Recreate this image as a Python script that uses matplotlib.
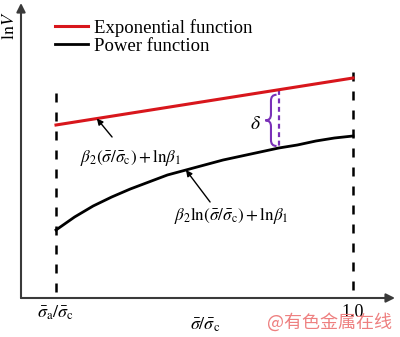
import numpy as np
import matplotlib
matplotlib.use('Agg')
import matplotlib.pyplot as plt
from matplotlib.path import Path
from matplotlib.patches import PathPatch

plt.rcParams['font.family'] = ['Liberation Serif', 'DejaVu Serif']
plt.rcParams['mathtext.fontset'] = 'stix'

# values (sigma_a/sigma_c taken as 0.2, lnV in arbitrary units)
x_a = 0.2
x_end = 1.0
x_exp = [0.2, 1.0]
lnv_exp = [1.73, 2.20]
x_pow = [0.20, 0.25, 0.30, 0.35, 0.40, 0.45, 0.50, 0.55, 0.60,
         0.65, 0.70, 0.75, 0.80, 0.85, 0.90, 0.95, 1.00]
lnv_pow = [0.68, 0.81, 0.92, 1.01, 1.09, 1.16, 1.23, 1.28, 1.33,
           1.38, 1.42, 1.46, 1.50, 1.53, 1.57, 1.60, 1.62]
x_delta = 0.80
tick_pos = [x_a, x_end]
tick_labels = [r'$\bar{\sigma}_\mathrm{a}/\bar{\sigma}_\mathrm{c}$', '1.0']
vline_top = [2.05, 2.26]

RED = '#d8161c'
PURPLE = '#7a30b8'
AXIS = '#3a3a3a'

fig = plt.figure(figsize=(4, 3.37), dpi=100)
ax = fig.add_axes([21 / 400, 39 / 337, 374 / 400, 295 / 337])
ax.set_xlim(0.1057, 1.1131)
ax.set_ylim(0, 2.95)
for s in ax.spines.values():
    s.set_visible(False)

# axes with arrows
arr = dict(arrowstyle='-|>', lw=1.5, color=AXIS, mutation_scale=13, shrinkA=0, shrinkB=0)
ax.annotate('', xy=(0, 1), xytext=(0, 0), xycoords='axes fraction', arrowprops=arr)
ax.annotate('', xy=(1, 0), xytext=(0, 0), xycoords='axes fraction', arrowprops=arr)

# dashed bounds
for xv, top in zip(tick_pos, vline_top):
    ax.plot([xv, xv], [top, 0], color='black', lw=1.8, ls=(0, (3.6, 4.0)), zorder=2)

ax.plot(x_exp, lnv_exp, color=RED, lw=2.2, label='Exponential function', zorder=3)
ax.plot(x_pow, lnv_pow, color='black', lw=2.0, label='Power function', zorder=3)

# delta between the two curves
y_hi = np.interp(x_delta, x_exp, lnv_exp)
y_lo = np.interp(x_delta, x_pow, lnv_pow)
ax.plot([x_delta, x_delta], [y_hi, y_lo], color=PURPLE, lw=1.6, ls=(0, (2.2, 1.6)), zorder=2)

b_top, b_bot = y_hi - 0.05, y_lo + 0.02
b_mid = (b_top + b_bot) / 2
xr, xt = x_delta - 0.006, x_delta - 0.036
xm = (xr + xt) / 2
q = 0.06
verts = [(xr, b_top), (xm, b_top), (xm, b_top - q), (xm, b_mid + q),
         (xm, b_mid), (xt, b_mid), (xm, b_mid), (xm, b_mid - q),
         (xm, b_bot + q), (xm, b_bot), (xr, b_bot)]
codes = [Path.MOVETO, Path.CURVE3, Path.CURVE3, Path.LINETO,
         Path.CURVE3, Path.CURVE3, Path.CURVE3, Path.CURVE3,
         Path.LINETO, Path.CURVE3, Path.CURVE3]
ax.add_patch(PathPatch(Path(verts, codes), fc='none', ec=PURPLE, lw=1.5))
ax.text(x_delta - 0.064, b_mid - 0.04, r'$\delta$', fontsize=14, ha='center', va='center')

# formula labels with arrows
ap = dict(arrowstyle='-|>', lw=1.0, color='black', mutation_scale=9, shrinkA=0, shrinkB=0)
x1 = 0.31
ax.annotate('', xy=(x1, np.interp(x1, x_exp, lnv_exp)), xytext=(0.351, 1.61), arrowprops=ap)
ax.text(0.400, 1.40, r'$\beta_2(\bar{\sigma}/\bar{\sigma}_\mathrm{c})+\mathrm{ln}\beta_1$',
        fontsize=12.3, ha='center', va='center')
x2 = 0.55
ax.annotate('', xy=(x2, np.interp(x2, x_pow, lnv_pow)), xytext=(0.615, 0.96), arrowprops=ap)
ax.text(0.672, 0.82, r'$\beta_2\mathrm{ln}(\bar{\sigma}/\bar{\sigma}_\mathrm{c})+\mathrm{ln}\beta_1$',
        fontsize=12.3, ha='center', va='center')

ax.set_xticks(tick_pos, tick_labels)
ax.set_yticks([])
ax.tick_params(length=0, pad=4, labelsize=13)

fig.text(205 / 400, 1 - 325 / 337, r'$\bar{\sigma}/\bar{\sigma}_\mathrm{c}$', fontsize=13,
         ha='center', va='center')
fig.text(9 / 400, 1 - 26 / 337, r'$\mathrm{ln}V$', fontsize=13, rotation=90,
         ha='center', va='center')

ax.legend(loc='upper left', bbox_to_anchor=(55 / 400, 1 - 19 / 337), bbox_transform=fig.transFigure,
          frameon=False, fontsize=13.5, handlelength=1.75, handletextpad=0.35,
          labelspacing=0.05, borderpad=0, borderaxespad=0)

fig.text(329 / 400, 1 - 322 / 337, '@有色金属在线', family=['Noto Sans CJK SC', 'DejaVu Sans'],
         fontsize=13, color='#ee8080', ha='center', va='center')

fig.savefig('out.png', dpi=100)
